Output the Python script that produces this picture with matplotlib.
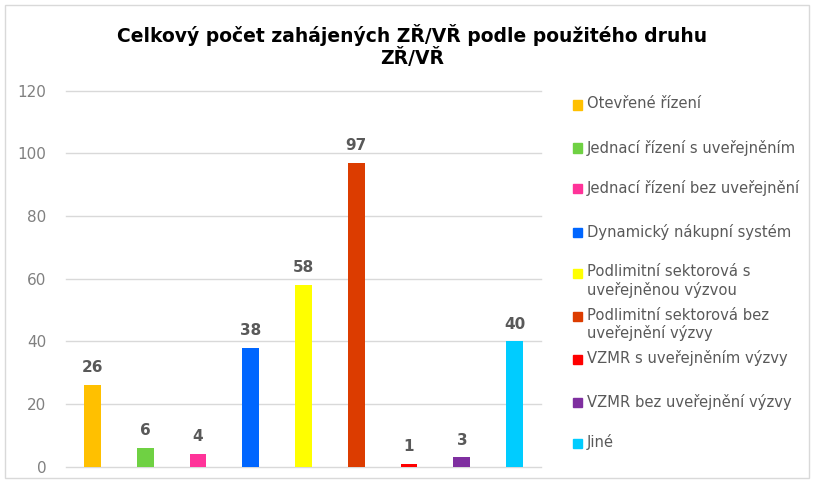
import matplotlib.pyplot as plt
from matplotlib.patches import Rectangle

categories = [
    'Otevřené řízení',
    'Jednací řízení s uveřejněním',
    'Jednací řízení bez uveřejnění',
    'Dynamický nákupní systém',
    'Podlimitní sektorová s\nuveřejněnou výzvou',
    'Podlimitní sektorová bez\nuveřejnění výzvy',
    'VZMR s uveřejněním výzvy',
    'VZMR bez uveřejnění výzvy',
    'Jiné',
]
values = [26, 6, 4, 38, 58, 97, 1, 3, 40]
colors = ['#FFC000', '#6FD143', '#FF3399', '#0066FF', '#FFFF00',
          '#DC3C00', '#FF0000', '#7F2FA0', '#00CCFF']
yticks = [0, 20, 40, 60, 80, 100, 120]
title = 'Celkový počet zahájených ZŘ/VŘ podle použitého druhu\nZŘ/VŘ'

label_gray = '#595959'
tick_gray = '#808080'

fig = plt.figure(figsize=(8.14, 4.82), dpi=100)
ax = fig.add_axes([0.0811, 0.0317, 0.5835, 0.7805])

x = range(len(values))
bars = ax.bar(x, values, width=0.32, color=colors, zorder=3)
for b, v in zip(bars, values):
    ax.annotate(str(v), (b.get_x() + b.get_width() / 2, v),
                xytext=(0, 7), textcoords='offset points',
                ha='center', va='bottom', fontsize=11, fontweight='bold',
                color=label_gray)

ax.set_xlim(-0.5, len(values) - 0.5)
ax.set_ylim(0, 120)
ax.set_yticks(yticks)
ax.set_xticks([])
ax.tick_params(axis='y', length=0, pad=14, labelsize=11, labelcolor=tick_gray)
ax.grid(axis='y', color='#D9D9D9', linewidth=1.0, zorder=0)
for gl in ax.get_ygridlines():
    gl.set_clip_on(False)
for s in ax.spines.values():
    s.set_visible(False)

fig.text(0.506, 0.905, title, ha='center', va='center', fontsize=13.5,
         fontweight='bold', color='black', linespacing=1.15)

# legend drawn by hand so markers sit on the first line
leg_y = [105, 148, 189, 232, 273, 316, 359, 402, 443]
for lab, col, yy in zip(categories, colors, leg_y):
    fy = 1 - yy / 482
    fig.patches.append(Rectangle((573 / 814, fy - 4.5 / 482), 9 / 814, 9 / 482,
                                 transform=fig.transFigure, color=col))
    fig.text(587 / 814, fy + 8.5 / 482, lab, ha='left', va='top', fontsize=10.6,
             color=label_gray, linespacing=1.2)

fig.patches.append(Rectangle((5 / 814, 4 / 482), 804 / 814, 473 / 482,
                             transform=fig.transFigure, fill=False,
                             edgecolor='#D9D9D9', linewidth=1))

fig.savefig('out.png', dpi=100)
